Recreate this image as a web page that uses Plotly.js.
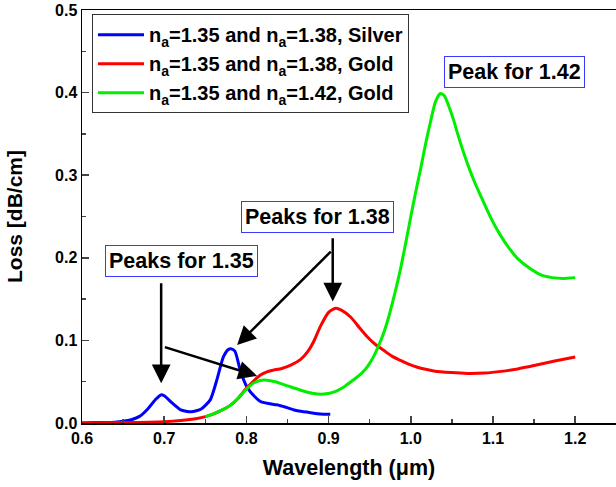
<!DOCTYPE html>
<html><head><meta charset="utf-8">
<script src="https://cdn.plot.ly/plotly-3.0.1.min.js"></script>
<style>html,body{margin:0;padding:0;background:#fff}#chart{width:616px;height:487px}</style>
</head><body><div id="chart"></div>
<script>
const seriesNames = [
  'n<sub>a</sub>=1.35 and n<sub>a</sub>=1.38, Silver',
  'n<sub>a</sub>=1.35 and n<sub>a</sub>=1.38, Gold',
  'n<sub>a</sub>=1.35 and n<sub>a</sub>=1.42, Gold'
];
const silverX = [0.60,0.62,0.64,0.65,0.66,0.67,0.68,0.69,0.696,0.70,0.71,0.72,0.733,0.745,0.756,0.764,0.772,0.778,0.781,0.786,0.793,0.801,0.81,0.817,0.827,0.837,0.848,0.858,0.868,0.878,0.89,0.902];
const silverY = [0.0,0.0005,0.001,0.002,0.004,0.008,0.017,0.029,0.034,0.033,0.024,0.016,0.0135,0.017,0.028,0.052,0.080,0.089,0.090,0.087,0.062,0.043,0.032,0.026,0.0235,0.022,0.019,0.0157,0.0138,0.0125,0.011,0.0105];
const gold138X = [0.60,0.65,0.70,0.72,0.74,0.75,0.76,0.77,0.78,0.79,0.80,0.81,0.817,0.825,0.833,0.843,0.854,0.866,0.875,0.882,0.89,0.90,0.9085,0.915,0.927,0.937,0.947,0.957,0.967,0.977,0.988,0.998,1.008,1.018,1.028,1.049,1.069,1.09,1.11,1.13,1.15,1.175,1.2];
const gold138Y = [0,0.0005,0.0016,0.003,0.0055,0.0077,0.011,0.0155,0.021,0.030,0.042,0.052,0.058,0.062,0.064,0.066,0.070,0.077,0.087,0.099,0.117,0.134,0.139,0.137,0.128,0.116,0.1045,0.095,0.088,0.081,0.0755,0.071,0.0675,0.065,0.063,0.061,0.060,0.0605,0.0625,0.0655,0.0695,0.075,0.080];
const gold142X = [0.75,0.76,0.77,0.78,0.79,0.80,0.81,0.821,0.835,0.85,0.865,0.88,0.894,0.905,0.919,0.93,0.94,0.947,0.955,0.961,0.967,0.973,0.978,0.983,0.988,0.994,1.000,1.006,1.012,1.018,1.024,1.030,1.036,1.041,1.046,1.052,1.057,1.063,1.07,1.077,1.085,1.097,1.108,1.12,1.13,1.145,1.159,1.172,1.185,1.2];
const gold142Y = [0.0077,0.011,0.0155,0.021,0.030,0.041,0.049,0.052,0.050,0.045,0.040,0.036,0.035,0.037,0.044,0.052,0.060,0.068,0.081,0.094,0.109,0.128,0.147,0.167,0.189,0.219,0.250,0.280,0.308,0.338,0.365,0.389,0.399,0.396,0.384,0.367,0.350,0.331,0.311,0.293,0.275,0.249,0.229,0.211,0.199,0.187,0.179,0.176,0.175,0.176];
const colors = ['#0000ff','#ff0000','#00ee00'];
const xTicks = [0.6,0.7,0.8,0.9,1.0,1.1,1.2];
const xTickText = ['0.6','0.7','0.8','0.9','1.0','1.1','1.2'];
const yTicks = [0,0.1,0.2,0.3,0.4,0.5];
const yTickText = ['0.0','0.1','0.2','0.3','0.4','0.5'];

const FONT = 'Liberation Sans, Arial, sans-serif';
const xs = [silverX, gold138X, gold142X], ys = [silverY, gold138Y, gold142Y];
const traces = xs.map((x,i)=>({x:x, y:ys[i], type:'scatter', mode:'lines', name:seriesNames[i],
  line:{color:colors[i], width:3, shape:'spline', smoothing:0.6}}));

const boxStyle = {showarrow:false, bordercolor:'#3a3aff', borderwidth:1, borderpad:3, bgcolor:'#fff',
  font:{family:FONT, size:21.5, color:'#000', weight:'bold'}, xref:'x', yref:'y'};
const arrow = (ax,ay,x,y)=>({x:x,y:y,ax:ax,ay:ay,axref:'x',ayref:'y',xref:'x',yref:'y',text:'',showarrow:true,
  arrowhead:2, arrowsize:1.5, arrowwidth:2.5, arrowcolor:'#000', standoff:0, startstandoff:0});

const layout = {
  width:616, height:487, margin:{l:82, r:0, t:10, b:64},
  paper_bgcolor:'#fff', plot_bgcolor:'#fff', showlegend:true,
  font:{family:FONT, color:'#000'},
  xaxis:{range:[0.6,1.2496], tickvals:xTicks, ticktext:xTickText, ticks:'inside', ticklen:7, tickwidth:1.5,
    minor:{dtick:0.05, ticks:'inside', ticklen:4, tickwidth:1.5}, showgrid:false, zeroline:false,
    showline:true, linecolor:'#000', linewidth:1.5, mirror:true,
    tickfont:{family:FONT, size:16, weight:'bold'},
    title:{text:'Wavelength (μm)', font:{family:FONT, size:21.5, weight:'bold'}, standoff:14}},
  yaxis:{range:[0,0.5], tickvals:yTicks, ticktext:yTickText, ticks:'inside', ticklen:7, tickwidth:1.5,
    minor:{dtick:0.05, ticks:'inside', ticklen:4, tickwidth:1.5}, showgrid:false, zeroline:false,
    showline:true, linecolor:'#000', linewidth:1.5, mirror:true,
    tickfont:{family:FONT, size:16, weight:'bold'},
    title:{text:'Loss [dB/cm]', font:{family:FONT, size:21, weight:'bold'}, standoff:26}},
  legend:{x:0.0187, y:0.99, xanchor:'left', yanchor:'top', bgcolor:'#fff', bordercolor:'#333', borderwidth:1,
    itemwidth:46, font:{family:FONT, size:20, weight:'bold', color:'#000'}},
  annotations:[
    Object.assign({x:0.7207, y:0.196, text:'Peaks for 1.35'}, boxStyle),
    Object.assign({x:0.8866, y:0.2488, text:'Peaks for 1.38'}, boxStyle),
    Object.assign({x:1.1256, y:0.4255, text:'Peak for 1.42'}, boxStyle),
    arrow(0.6963,0.171,0.6963,0.048),
    arrow(0.699,0.0924,0.813,0.057),
    arrow(0.9045,0.2094,0.7887,0.0944),
    arrow(0.905,0.2255,0.905,0.147)
  ]
};
Plotly.newPlot('chart', traces, layout, {displayModeBar:false, staticPlot:true});
</script></body></html>
